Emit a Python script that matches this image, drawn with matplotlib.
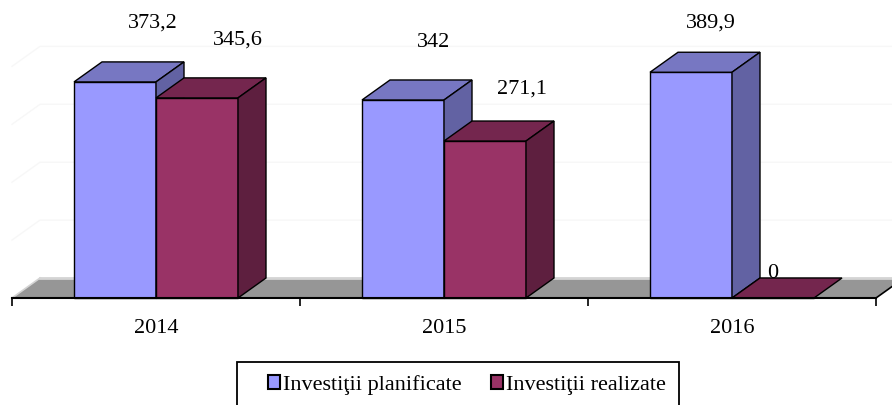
import matplotlib
matplotlib.use("Agg")
import matplotlib.pyplot as plt
from matplotlib.patches import Polygon, Rectangle, Patch
import numpy as np

plt.rcParams['font.family'] = ['Liberation Serif', 'DejaVu Serif']

years = ["2014", "2015", "2016"]
planned = [373.2, 342.0, 389.9]
realized = [345.6, 271.1, 0.0]
series_names = ["Investiţii planificate", "Investiţii realizate"]
value_labels_planned = ["373,2", "342", "389,9"]
value_labels_realized = ["345,6", "271,1", "0"]

# face colours: front, top, side
blue = ("#9999FF", "#7777C2", "#6262A3")
red = ("#993366", "#74264E", "#5E1F3F")

W, H = 892, 405
fig = plt.figure(figsize=(W / 100, H / 100), dpi=100)
ax_left, ax_right = 12, 876
base_px = 298
ymax = 400
px_per_unit = 0.579
ax_h = ymax * px_per_unit
ax = fig.add_axes([ax_left / W, (H - base_px) / H, (ax_right - ax_left) / W, ax_h / H])
ax.set_xlim(-0.5, len(years) - 0.5)
ax.set_ylim(0, ymax)
for s in ax.spines.values():
    s.set_visible(False)
ax.patch.set_visible(False)

# depth offset (pixels -> data)
cat_px = (ax_right - ax_left) / len(years)
ddx = 28 / cat_px
ddy = 20 / px_per_unit

x = np.arange(len(years))
bw = 82 / cat_px

# faint back-wall gridlines
for v in [100, 200, 300, 400]:
    ax.plot([-0.5, -0.5 + ddx, 2.5 + ddx], [v, v + ddy, v + ddy], color="#f7f7f7",
            lw=1.0, clip_on=False, zorder=0)

# floor
x0, x1 = -0.5, len(years) - 0.5
ax.add_patch(Polygon([(x0, 0), (x1, 0), (x1 + ddx, ddy), (x0 + ddx, ddy)], closed=True,
                     facecolor="#969696", edgecolor="none", clip_on=False, zorder=1))
ax.plot([x0 + ddx, x1 + ddx], [ddy, ddy], color="#d4d4d4", lw=2.0, clip_on=False, zorder=1)
ax.plot([x0, x0 + ddx], [0, ddy], color="#d4d4d4", lw=1.2, clip_on=False, zorder=1)
ax.plot([x1, x1 + ddx], [0, ddy], color="black", lw=1.2, clip_on=False, zorder=1)
ax.plot([x0, x1], [0, 0], color="black", lw=1.5, clip_on=False, zorder=6)

def bar3d(xc, val, cols, z):
    l, r = xc - bw / 2, xc + bw / 2
    ax.bar(xc, val, width=bw, color=cols[0], edgecolor="black", linewidth=1.0,
           zorder=z, clip_on=False)
    ax.add_patch(Polygon([(l, val), (r, val), (r + ddx, val + ddy), (l + ddx, val + ddy)],
                         closed=True, facecolor=cols[1], edgecolor="black", lw=1.0,
                         zorder=z, clip_on=False))
    if val > 0:
        ax.add_patch(Polygon([(r, 0), (r, val), (r + ddx, val + ddy), (r + ddx, ddy)],
                             closed=True, facecolor=cols[2], edgecolor="black", lw=1.0,
                             zorder=z, clip_on=False))

for i in range(len(years)):
    bar3d(x[i] - bw / 2, planned[i], blue, 3)
    bar3d(x[i] + bw / 2, realized[i], red, 4)

# data labels
off_p = [(38, 59), (31, 57), (20, 49)]
off_r = [(41, 58), (37, 52), (0, 25)]
for i in range(len(years)):
    ax.annotate(value_labels_planned[i], (x[i] - bw / 2, planned[i]), xytext=off_p[i],
                textcoords="offset pixels", ha="center", va="center", fontsize=16, zorder=7)
    ax.annotate(value_labels_realized[i], (x[i] + bw / 2, realized[i]), xytext=off_r[i],
                textcoords="offset pixels", ha="center", va="center", fontsize=16, zorder=7)

# ticks
ax.set_xticks(np.arange(-0.5, len(years), 1.0))
ax.set_xticklabels([])
ax.tick_params(axis="x", which="major", direction="out", length=6, width=1.2, color="black")
ax.set_xticks(x, minor=True)
ax.set_xticklabels(years, minor=True, fontsize=16)
ax.tick_params(axis="x", which="minor", length=0, pad=15)
ax.set_yticks([])

# legend
rect = Rectangle((237 / W, (H - 410) / H), (679 - 237) / W, 48 / H, transform=fig.transFigure,
                 facecolor="white", edgecolor="black", lw=1.3, clip_on=False)
fig.patches.append(rect)
handles = [Patch(facecolor=blue[0], edgecolor="black", lw=1.5),
           Patch(facecolor=red[0], edgecolor="black", lw=1.5)]
fig.legend(handles, series_names, loc="center", bbox_to_anchor=(467 / W, (H - 385) / H),
           ncol=2, frameon=False, fontsize=16, handlelength=0.55, handleheight=0.55,
           handletextpad=0.15, columnspacing=1.3, borderpad=0)

fig.savefig("out.png", dpi=100)
